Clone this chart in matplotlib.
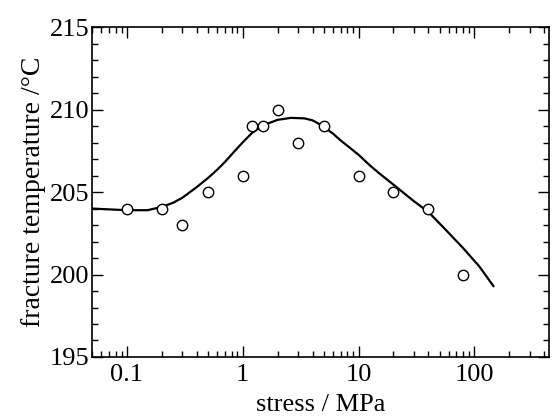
import matplotlib.pyplot as plt

plt.rcParams['font.family'] = ['Liberation Serif', 'DejaVu Serif']

# measured points
stress = [0.1, 0.2, 0.3, 0.5, 1.0, 1.2, 1.5, 2.0, 3.0, 5.0, 10, 20, 40, 80]
temp = [204, 204, 203, 205, 206, 209, 209, 210, 208, 209, 206, 205, 204, 200]

# fitted curve
fit_x = [0.05, 0.07, 0.1, 0.15, 0.2, 0.25, 0.3, 0.4, 0.5, 0.6, 0.7, 0.85,
         1.0, 1.2, 1.5, 2.0, 2.6, 3.4, 4.0, 4.8, 6.0, 7.0, 8.2, 10, 12.6, 15,
         20, 30, 40, 55, 80, 110, 146]
fit_y = [204.0, 203.95, 203.9, 203.9, 204.1, 204.35, 204.65, 205.3, 205.85,
         206.35, 206.82, 207.48, 208.02, 208.58, 209.05, 209.38, 209.5, 209.47,
         209.35, 209.05, 208.55, 208.13, 207.75, 207.26, 206.6, 206.15, 205.45,
         204.45, 203.8, 202.8, 201.6, 200.5, 199.3]

fig = plt.figure(figsize=(5.55, 4.18), dpi=100)
ax = fig.add_axes([0.166, 0.146, 0.823, 0.789])

ax.plot(fit_x, fit_y, color='black', lw=1.6, solid_joinstyle='round')
ax.plot(stress, temp, 'o', mfc='white', mec='black', ms=7.5, mew=1.0)

ax.set_xscale('log')
ax.set_xlim(0.05, 440)
ax.set_ylim(195, 215)
ax.set_yticks([195, 200, 205, 210, 215])
ax.set_yticks(range(195, 216), minor=True)
ax.set_xticks([0.1, 1, 10, 100])
ax.set_xticklabels(['0.1', '1', '10', '100'])

ax.tick_params(which='both', direction='in', top=True, right=True, width=1)
ax.tick_params(which='major', length=8)
ax.tick_params(which='minor', length=4)
ax.tick_params(axis='x', labelsize=19, pad=5)
ax.tick_params(axis='y', labelsize=19, pad=2)
for s in ax.spines.values():
    s.set_linewidth(1.2)

ax.set_xlabel('stress / MPa', fontsize=19, labelpad=6)
ax.set_ylabel('fracture temperature /°C', fontsize=20, labelpad=3)

fig.savefig('out.png', dpi=100)
